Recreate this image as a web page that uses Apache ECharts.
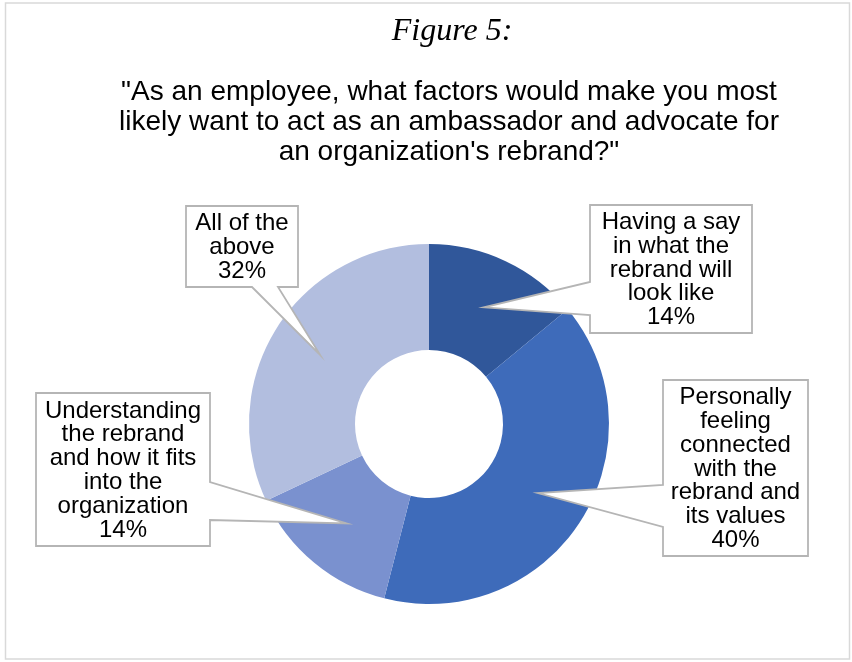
<!DOCTYPE html>
<html>
<head>
<meta charset="utf-8">
<script src="https://cdn.jsdelivr.net/npm/echarts@6/dist/echarts.min.js"></script>
<style>
  html, body { margin: 0; padding: 0; background: #fff; }
  #chart { width: 852px; height: 662px; }
</style>
</head>
<body>
<div id="chart"></div>
<script>
// Survey answers (percent of respondents), in clockwise order from 12 o'clock
const categories = [
  'Having a say\nin what the\nrebrand will\nlook like',
  'Personally\nfeeling\nconnected\nwith the\nrebrand and\nits values',
  'Understanding\nthe rebrand\nand how it fits\ninto the\norganization',
  'All of the\nabove'
];
const shares = [14, 40, 14, 32];
const sliceColors = ['#30579A', '#3E6BBA', '#7A91CF', '#B2BEDF'];

const figureLabel = 'Figure 5:';
const question = '"As an employee, what factors would make you most\nlikely want to act as an ambassador and advocate for\nan organization\'s rebrand?"';

// Callout boxes: [left, top, width, height, side the pointer leaves from, pointer base start, pointer base end]
const calloutBoxes = [
  [590, 205, 162, 128, 'left', 77, 110],
  [663, 380, 145, 176, 'left', 105, 147],
  [36, 393, 174, 153, 'right', 89, 127],
  [186, 206, 112, 81, 'bottom', 66, 92]
];

const LABEL_FONT = '"Liberation Sans", Arial, Helvetica, sans-serif';
const chart = echarts.init(document.getElementById('chart'), null, { renderer: 'canvas' });

chart.setOption({
  animation: false,
  backgroundColor: '#ffffff',
  title: [
    {
      text: figureLabel,
      left: 447, top: 11, textAlign: 'center',
      textStyle: { fontFamily: '"Liberation Serif", "Times New Roman", serif', fontStyle: 'italic',
                   fontWeight: 'normal', fontSize: 32, color: '#000' }
    },
    {
      text: question,
      left: 444, top: 72, textAlign: 'center',
      textStyle: { fontFamily: LABEL_FONT, fontWeight: 'normal', fontSize: 28, lineHeight: 30, color: '#000' }
    }
  ],
  series: [{
    type: 'pie',
    z: 2,
    center: [429, 424],
    radius: [74, 180],
    startAngle: 90,
    clockwise: true,
    silent: true,
    label: { show: false },
    labelLine: { show: false },
    data: categories.map((name, i) => ({
      name: name,
      value: shares[i],
      itemStyle: { color: sliceColors[i] }
    }))
  }]
});

// Callouts: each box's pointer ends inside its slice, at the middle of the ring and the slice's mid angle
const pieData = chart.getModel().getSeriesByIndex(0).getData();
const graphics = [{
  type: 'rect', z: 1, silent: true,
  shape: { x: 5.5, y: 3, width: 844, height: 656 },
  style: { fill: null, stroke: '#d9d9d9', lineWidth: 1.5 }
}];

calloutBoxes.forEach((box, i) => {
  const [x, y, w, h, side, b1, b2] = box;
  const lay = pieData.getItemLayout(i);
  const mid = (lay.startAngle + lay.endAngle) / 2;
  const rr = (lay.r + lay.r0) / 2 + 2;
  const tip = [lay.cx + rr * Math.cos(mid), lay.cy + rr * Math.sin(mid)];
  let pts;
  if (side === 'left') {
    pts = [[x, y], [x + w, y], [x + w, y + h], [x, y + h], [x, y + b2], tip, [x, y + b1]];
  } else if (side === 'right') {
    pts = [[x, y], [x + w, y], [x + w, y + b1], tip, [x + w, y + b2], [x + w, y + h], [x, y + h]];
  } else {
    pts = [[x, y], [x + w, y], [x + w, y + h], [x + b2, y + h], tip, [x + b1, y + h], [x, y + h]];
  }
  graphics.push({
    type: 'polygon', z: 10, silent: true,
    shape: { points: pts },
    style: { fill: '#ffffff', stroke: '#b5b5b5', lineWidth: 1.8, lineJoin: 'miter' }
  });
  graphics.push({
    type: 'text', z: 11, silent: true,
    x: x + w / 2, y: y + h / 2 + 1,
    style: {
      text: categories[i] + '\n' + shares[i] + '%',
      fill: '#000',
      fontFamily: LABEL_FONT,
      fontSize: 24,
      lineHeight: 23.8,
      align: 'center',
      verticalAlign: 'middle'
    }
  });
});

chart.setOption({ graphic: graphics });
</script>
</body>
</html>
